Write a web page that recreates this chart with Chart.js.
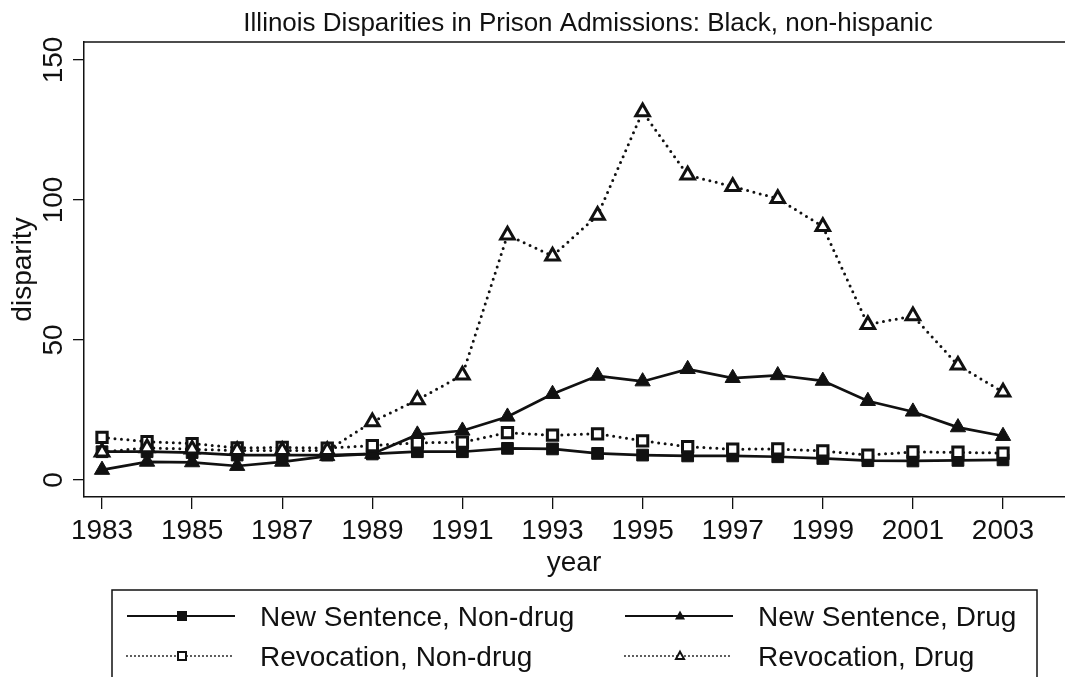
<!DOCTYPE html>
<html>
<head>
<meta charset="utf-8">
<script src="https://cdn.jsdelivr.net/npm/chart.js@4.4.1/dist/chart.umd.min.js"></script>
<style>
    html, body { margin: 0; padding: 0; background: #fff; }
    #wrap { width: 1065px; height: 677px; }
</style>
</head>
<body>
<div id="wrap"><canvas id="myChart" width="1065" height="677"></canvas></div>
<script>
// datos del grafico
const years = [1983, 1984, 1985, 1986, 1987, 1988, 1989, 1990, 1991, 1992, 1993,
               1994, 1995, 1996, 1997, 1998, 1999, 2000, 2001, 2002, 2003];
const newSentenceNonDrug = [10.1, 10.1, 9.8, 8.9, 8.9, 8.9, 9.3, 10.1, 10.1, 11.3, 11.1,
                            9.5, 8.9, 8.6, 8.6, 8.3, 7.7, 6.9, 6.8, 7.0, 7.2];
const newSentenceDrug = [3.6, 6.5, 6.3, 5.0, 6.5, 8.5, 9.3, 16.2, 17.6, 22.6, 30.7,
                         37.2, 35.2, 39.6, 36.4, 37.4, 35.4, 28.2, 24.4, 18.8, 15.7];
const revocationNonDrug = [15.2, 13.7, 13.0, 11.5, 11.6, 11.4, 12.3, 13.3, 13.5, 16.9, 16.0,
                           16.5, 14.0, 11.9, 11.0, 11.1, 10.4, 8.9, 10.0, 9.9, 9.6];
const revocationDrug = [10.0, 11.5, 11.0, 10.5, 10.5, 10.5, 20.8, 28.6, 37.5, 87.5, 80.0,
                        94.5, 131.5, 108.9, 104.8, 100.5, 90.5, 55.5, 58.6, 41.0, 31.4];
const xTicks = [1983, 1985, 1987, 1989, 1991, 1993, 1995, 1997, 1999, 2001, 2003];
const yTicks = [0, 50, 100, 150];

const titulo = 'Illinois Disparities in Prison Admissions: Black, non-hispanic';
const FONT = '"Liberation Sans", Arial, sans-serif';
const INK = '#111';

function toPoints(values) {
    return years.map((y, i) => ({ x: y, y: values[i] }));
}

// marcador para la leyenda
function drawMarker(ctx, style, x, y, size, filled) {
    ctx.beginPath();
    if (style === 'rect') {
        ctx.rect(x - size / 2, y - size / 2, size, size);
    } else {
        const h = size * 0.9;
        ctx.moveTo(x, y - h * 0.6);
        ctx.lineTo(x + size / 2, y + h * 0.4);
        ctx.lineTo(x - size / 2, y + h * 0.4);
        ctx.closePath();
    }
    if (filled) {
        ctx.fillStyle = INK;
        ctx.fill();
    } else {
        ctx.fillStyle = '#fff';
        ctx.fill();
        ctx.lineWidth = 2;
        ctx.strokeStyle = INK;
        ctx.stroke();
    }
}

const stataPlugin = {
    id: 'stata',
    afterDraw(chart) {
        const ctx = chart.ctx;
        const area = chart.chartArea;
        const yScale = chart.scales.y;
        ctx.save();

        // marco superior
        ctx.strokeStyle = INK;
        ctx.lineWidth = 1.5;
        ctx.beginPath();
        ctx.moveTo(area.left, area.top);
        ctx.lineTo(chart.width, area.top);
        ctx.stroke();

        // titulo
        ctx.fillStyle = INK;
        ctx.font = '26px ' + FONT;
        ctx.textAlign = 'center';
        ctx.textBaseline = 'alphabetic';
        ctx.fillText(titulo, 588, 31);

        // etiquetas del eje y (rotadas)
        ctx.font = '28px ' + FONT;
        yTicks.forEach((v) => {
            const py = yScale.getPixelForValue(v);
            ctx.save();
            ctx.translate(62, py);
            ctx.rotate(-Math.PI / 2);
            ctx.fillText(String(v), 0, 0);
            ctx.restore();
        });

        // titulos de los ejes
        ctx.save();
        ctx.translate(31, (area.top + area.bottom) / 2);
        ctx.rotate(-Math.PI / 2);
        ctx.fillText('disparity', 0, 0);
        ctx.restore();
        ctx.fillText('year', 574, 571);

        // leyenda
        ctx.lineWidth = 1.5;
        ctx.strokeStyle = INK;
        ctx.strokeRect(112, 590, 925, 90);

        const items = [
            { label: 'New Sentence, Non-drug', style: 'rect', filled: true, dotted: false, col: 0, row: 0 },
            { label: 'New Sentence, Drug', style: 'triangle', filled: true, dotted: false, col: 1, row: 0 },
            { label: 'Revocation, Non-drug', style: 'rect', filled: false, dotted: true, col: 0, row: 1 },
            { label: 'Revocation, Drug', style: 'triangle', filled: false, dotted: true, col: 1, row: 1 }
        ];
        items.forEach((it) => {
            const x0 = 127 + it.col * 498;
            const cy = 616 + it.row * 40;
            ctx.beginPath();
            ctx.strokeStyle = INK;
            if (it.dotted) {
                ctx.lineWidth = 1.8;
                ctx.setLineDash([0, 4]);
                ctx.lineCap = 'round';
            } else {
                ctx.lineWidth = 2.2;
                ctx.setLineDash([]);
                ctx.lineCap = 'butt';
            }
            ctx.moveTo(x0, cy);
            ctx.lineTo(x0 + 108, cy);
            ctx.stroke();
            ctx.setLineDash([]);
            drawMarker(ctx, it.style, x0 + 55, cy, it.filled ? 10 : 8, it.filled);
            ctx.fillStyle = INK;
            ctx.font = '28px ' + FONT;
            ctx.textAlign = 'left';
            ctx.fillText(it.label, x0 + 133, cy + 10);
        });

        ctx.restore();
    }
};

const ctx = document.getElementById('myChart').getContext('2d');
new Chart(ctx, {
    type: 'line',
    data: {
        datasets: [
            {
                label: 'New Sentence, Non-drug',
                data: toPoints(newSentenceNonDrug),
                borderColor: INK,
                borderWidth: 2.7,
                pointStyle: 'rect',
                pointRadius: 8.3,
                pointBackgroundColor: INK,
                pointBorderColor: INK,
                pointBorderWidth: 1,
                tension: 0,
                order: 4
            },
            {
                label: 'New Sentence, Drug',
                data: toPoints(newSentenceDrug),
                borderColor: INK,
                borderWidth: 2.7,
                pointStyle: 'triangle',
                pointRadius: 8.8,
                pointBackgroundColor: INK,
                pointBorderColor: INK,
                pointBorderWidth: 1,
                tension: 0,
                order: 3
            },
            {
                label: 'Revocation, Non-drug',
                data: toPoints(revocationNonDrug),
                borderColor: INK,
                borderWidth: 3,
                borderDash: [0, 6.5],
                borderCapStyle: 'round',
                pointStyle: 'rect',
                pointRadius: 7.3,
                pointBackgroundColor: '#fff',
                pointBorderColor: INK,
                pointBorderWidth: 3,
                tension: 0,
                order: 2
            },
            {
                label: 'Revocation, Drug',
                data: toPoints(revocationDrug),
                borderColor: INK,
                borderWidth: 3,
                borderDash: [0, 6.5],
                borderCapStyle: 'round',
                pointStyle: 'triangle',
                pointRadius: 7.8,
                pointBackgroundColor: '#fff',
                pointBorderColor: INK,
                pointBorderWidth: 3,
                tension: 0,
                order: 1
            }
        ]
    },
    options: {
        responsive: false,
        animation: false,
        layout: {
            autoPadding: false,
            padding: { top: 42, left: 0, right: 0, bottom: 0 }
        },
        plugins: {
            legend: { display: false },
            title: { display: false },
            tooltip: { enabled: false }
        },
        scales: {
            x: {
                type: 'linear',
                min: 1982.6,
                max: 2004.376,
                afterBuildTicks: (scale) => {
                    scale.ticks = xTicks.map((v) => ({ value: v }));
                },
                afterFit: (scale) => {
                    scale.height = 180;
                    scale.paddingLeft = 0;
                    scale.paddingRight = 0;
                },
                ticks: {
                    callback: (v) => String(v),
                    color: INK,
                    font: { family: FONT, size: 28 },
                    padding: 5,
                    maxRotation: 0,
                    minRotation: 0
                },
                grid: {
                    drawOnChartArea: false,
                    drawTicks: true,
                    tickLength: 12,
                    color: INK,
                    lineWidth: 1.3
                },
                border: { display: true, color: INK, width: 1.5 }
            },
            y: {
                type: 'linear',
                min: -6.07,
                max: 156.43,
                afterBuildTicks: (scale) => {
                    scale.ticks = yTicks.map((v) => ({ value: v }));
                },
                afterFit: (scale) => {
                    scale.width = 84;
                    scale.paddingTop = 0;
                    scale.paddingBottom = 0;
                },
                ticks: { display: false },
                grid: {
                    drawOnChartArea: false,
                    drawTicks: true,
                    tickLength: 11,
                    color: INK,
                    lineWidth: 1.3
                },
                border: { display: true, color: INK, width: 1.5 }
            }
        }
    },
    plugins: [stataPlugin]
});
</script>
</body>
</html>
